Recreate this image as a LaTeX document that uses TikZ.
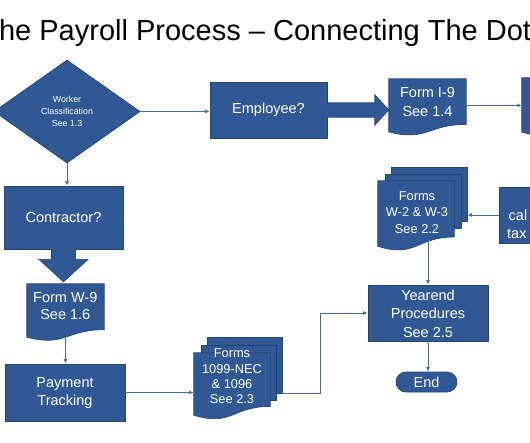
\documentclass[tikz,border=0pt]{standalone}
\usepackage{fontspec}
\setmainfont{Liberation Sans}
\usetikzlibrary{shapes.geometric,arrows.meta,calc}
\definecolor{bfill}{HTML}{2F5895}
\definecolor{bline}{HTML}{23456F}
\definecolor{cline}{HTML}{41719C}
\newcommand\docpath[1]{%
  \path[shp] let \p1=(#1.north west), \p2=(#1.south east), \n1={\y1-\y2} in
    (\p1) -- (\x2,\y1) -- (\x2,{\y1-0.8587*\n1})
    .. controls ({(\x1+\x2)/2},{\y1-0.8587*\n1}) and ({(\x1+\x2)/2},{\y1-1.1857*\n1}) ..
    (\x1,\y2) -- cycle;}
\tikzset{
  shp/.style={fill=bfill, draw=bline, line width=0.7pt},
  boxnode/.style={shp, rectangle, inner sep=0pt},
  ghost/.style={rectangle, draw=none, inner sep=0pt},
  txt/.style={text=white, align=center, inner sep=0pt, font=\fontsize{14.5}{18.5}\selectfont},
  conn/.style={draw=cline, line width=0.9pt, -{Latex[length=4.5pt,width=4pt]}},
  blkfill/.style={fill=bfill, draw=none},
  blkline/.style={draw=bline, line width=0.7pt, line join=miter}
}
\begin{document}
\begin{tikzpicture}[x=1pt,y=-1pt]
\useasboundingbox (0,0) rectangle (530,442);
\fill[white] (0,0) rectangle (530,442);
\clip (0,0) rectangle (530,442);

% title (cut at both edges, as in the reference)
\node[anchor=base west, inner sep=0pt, font=\fontsize{29}{31}\selectfont] (title) at (-18.8,40) {The Payroll Process – Connecting The Dots};

% decision
\node[shp, diamond, minimum width=146, minimum height=103, inner sep=0pt, aspect=1.4,
      text=white, align=center, font=\fontsize{8.8}{12}\selectfont] (dia) at (67,111.5) {Worker\\Classification\\See 1.3};

% employee
\node[boxnode, minimum width=117, minimum height=56] (emp) at (268.5,110) {};
\node[txt] (empt) at (268.5,110) {Employee?};

% Form I-9
\node[ghost, minimum width=77, minimum height=52.7] (i9) at (427.5,105.35) {};
\docpath{i9}
\node[txt, font=\fontsize{14.5}{19}\selectfont] (i9t) at (427.5,102.5) {Form I-9\\See 1.4};

% partial document at right edge
\node[ghost, minimum width=77, minimum height=54] (rdoc) at (560.5,105) {};
\docpath{rdoc}

% block arrow employee -> I-9
\coordinate (etip) at (i9.west |- emp.east);
\fill[blkfill] ($(emp.east)+(-1,-7.2)$) -- ($(etip)+(-14,-7.2)$) -- ($(etip)+(-14,-15.2)$) -- (etip)
   -- ($(etip)+(-14,15)$) -- ($(etip)+(-14,7.2)$) -- ($(emp.east)+(-1,7.2)$) -- cycle;
\draw[blkline] ($(emp.east)+(0,-7.2)$) -- ($(etip)+(-14,-7.2)$) -- ($(etip)+(-14,-15.2)$) -- (etip)
   -- ($(etip)+(-14,15)$) -- ($(etip)+(-14,7.2)$) -- ($(emp.east)+(0,7.2)$);

% contractor
\node[boxnode, minimum width=119, minimum height=63] (con) at (63.5,217.5) {};
\node[txt] (cont) at (63.5,217.5) {Contractor?};

% Form W-9
\node[ghost, minimum width=77, minimum height=53] (w9) at (65.5,310.5) {};
\docpath{w9}
\node[txt, font=\fontsize{14.5}{17}\selectfont] (w9t) at (65.3,306.5) {Form W-9\\See 1.6};

% block arrow contractor -> W-9
\coordinate (ctip) at ($(con.south |- w9.north)+(0,-2)$);
\fill[blkfill] ($(con.south)+(-12,-1)$) -- ($(con.south)+(-12,10)$) -- ($(con.south)+(-24.5,10)$) -- (ctip)
   -- ($(con.south)+(24.5,10)$) -- ($(con.south)+(12,10)$) -- ($(con.south)+(12,-1)$) -- cycle;
\draw[blkline] ($(con.south)+(-12,0)$) -- ($(con.south)+(-12,10)$) -- ($(con.south)+(-24.5,10)$) -- (ctip)
   -- ($(con.south)+(24.5,10)$) -- ($(con.south)+(12,10)$) -- ($(con.south)+(12,0)$);

% payment tracking
\node[boxnode, minimum width=120, minimum height=57] (pay) at (65,392.5) {};
\node[txt, font=\fontsize{14.5}{18}\selectfont] (payt) at (65,393) {Payment\\Tracking};

% forms 1099 stack
\node[boxnode, minimum width=75, minimum height=56] (b1099) at (244.5,365) {};
\node[boxnode, minimum width=75, minimum height=55] (m1099) at (238.5,372.5) {};
\node[ghost, minimum width=76, minimum height=62] (f1099) at (232,384) {};
\docpath{f1099}
\node[txt, font=\fontsize{12.8}{15.3}\selectfont] (f1099t) at (232,376.5) {Forms\\1099-NEC\\\& 1096\\See 2.3};

% forms W-2 stack
\node[boxnode, minimum width=76, minimum height=54] (b22) at (429,194) {};
\node[boxnode, minimum width=76, minimum height=54] (m22) at (423,201) {};
\node[ghost, minimum width=76, minimum height=65] (f22) at (416,213.5) {};
\docpath{f22}
\node[txt, font=\fontsize{12.8}{16.5}\selectfont] (f22t) at (417,212.5) {Forms\\W-2 \& W-3\\See 2.2};

% partial box at right edge
\node[boxnode, minimum width=82, minimum height=56] (calcbox) at (540,215) {};
\node[txt, anchor=base west] (calt1) at (508.5,220.5) {cal};
\node[txt, anchor=base west] (calt2) at (507,238.5) {tax};

% yearend
\node[boxnode, minimum width=120, minimum height=56] (yend) at (428,313) {};
\node[txt] (yendt) at (428,313.5) {Yearend\\Procedures\\See 2.5};

% end
\node[shp, rectangle, rounded corners=10pt, minimum width=61, minimum height=20, inner sep=0pt] (fin) at (426.5,382) {};
\node[txt] (fint) at (426.5,382) {End};

% connectors
\coordinate (jog) at (320,0);
\coordinate (w22s) at ($(yend.north |- f22.south)+(0,-5)$);
\draw[conn] (dia.east) -- (dia.east -| emp.west);
\draw[conn] (dia.south) -- (dia.south |- con.north);
\draw[conn] (i9.east) -- (i9.east -| rdoc.west);
\draw[conn] (w9.south) -- (w9.south |- pay.north);
\draw[conn] (pay.east) -- (pay.east -| f1099.west);
\draw[conn] (b1099.south east) -- (jog |- b1099.south east) |- (yend.west);
\draw[conn] (w22s) -- (yend.north);
\draw[conn] (calcbox.west) -- (calcbox.west -| b22.east);
\draw[conn] (yend.south) -- (yend.south |- fin.north);
\end{tikzpicture}
\end{document}
